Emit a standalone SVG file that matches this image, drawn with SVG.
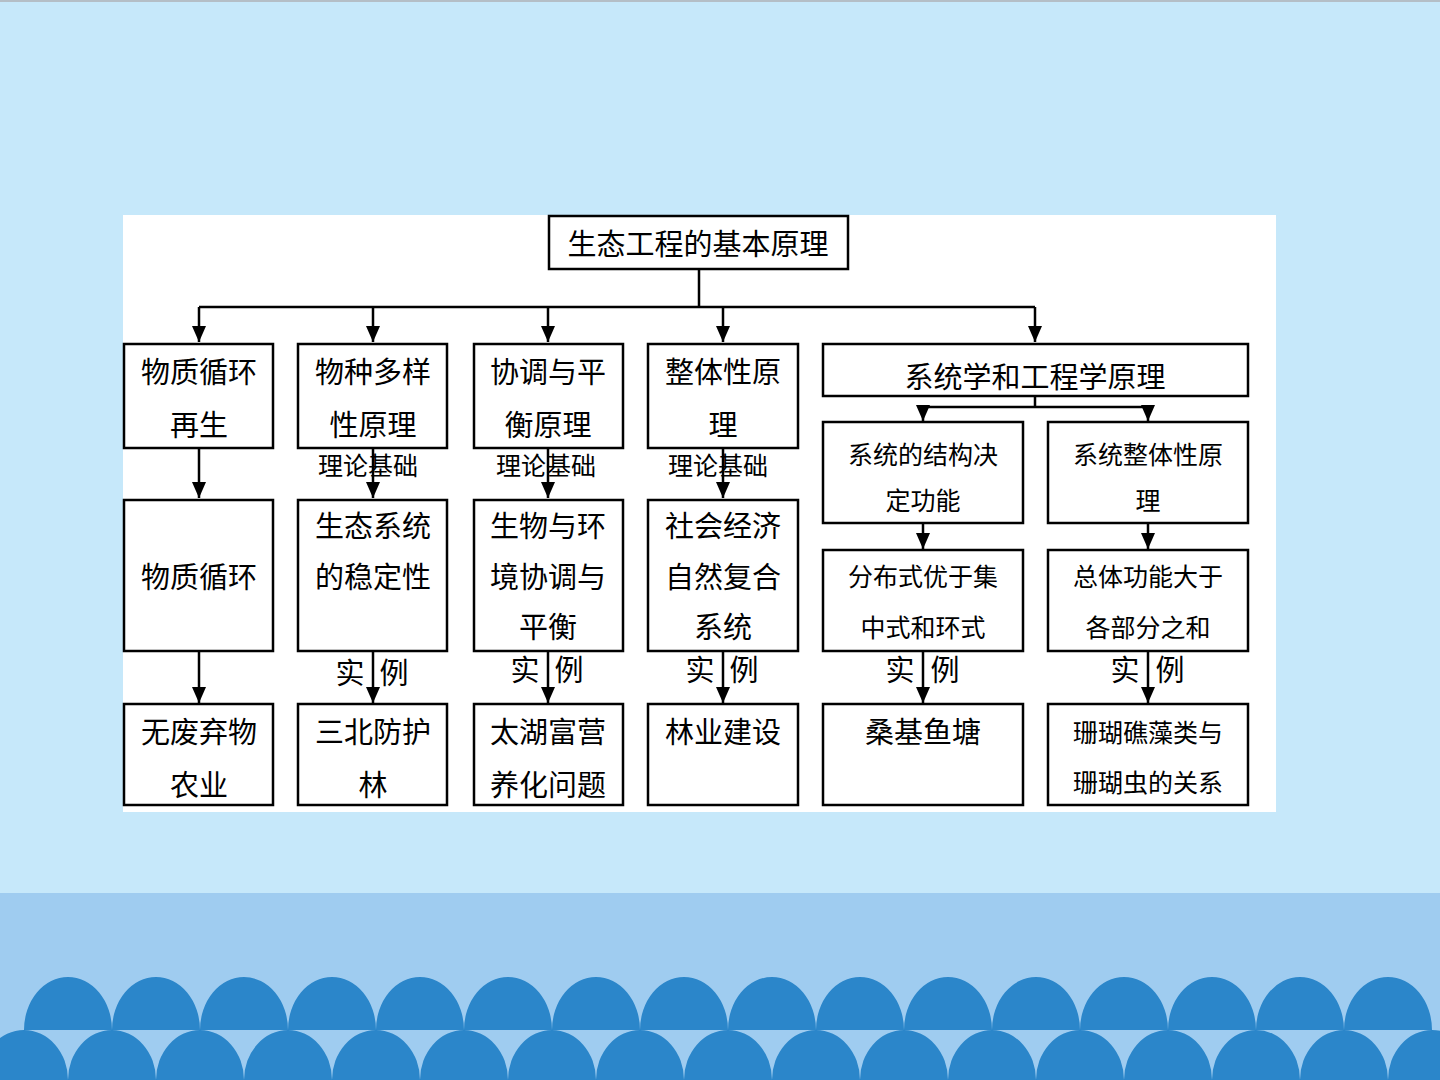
<svg xmlns="http://www.w3.org/2000/svg" width="1440" height="1080" viewBox="0 0 1440 1080">
<defs>
<style>
.box{fill:#fff;stroke:#000;stroke-width:2.5}
.t{font-family:"Noto Sans CJK SC","Noto Sans",sans-serif;font-size:29px;fill:#000;text-anchor:middle}
.s{font-family:"Noto Sans CJK SC","Noto Sans",sans-serif;font-size:25px;fill:#000;text-anchor:middle}
.l{font-family:"Noto Sans CJK SC","Noto Sans",sans-serif;font-size:25px;fill:#000;text-anchor:middle}
.c{fill:none;stroke:#000;stroke-width:2.5}
.a{fill:none;stroke:#000;stroke-width:2.5;marker-end:url(#ah)}
.arch{fill:#2B86CA}
</style>
<marker id="ah" markerUnits="userSpaceOnUse" markerWidth="16" markerHeight="18" viewBox="0 0 16 18" refX="8" refY="17" orient="0">
<path d="M1,1 L15,1 L8,17 Z" fill="#000"/>
</marker>
</defs>
<!-- background -->
<rect x="0" y="0" width="1440" height="1080" fill="#C6E8FA"/>
<rect x="0" y="0" width="1440" height="2" fill="#B4BEC6"/>
<rect x="0" y="893" width="1440" height="187" fill="#9FCCF0"/>
<g id="scallops">
<path class="arch" d="M24,1030 A44,53 0 0 1 112,1030 Z M112,1030 A44,53 0 0 1 200,1030 Z M200,1030 A44,53 0 0 1 288,1030 Z M288,1030 A44,53 0 0 1 376,1030 Z M376,1030 A44,53 0 0 1 464,1030 Z M464,1030 A44,53 0 0 1 552,1030 Z M552,1030 A44,53 0 0 1 640,1030 Z M640,1030 A44,53 0 0 1 728,1030 Z M728,1030 A44,53 0 0 1 816,1030 Z M816,1030 A44,53 0 0 1 904,1030 Z M904,1030 A44,53 0 0 1 992,1030 Z M992,1030 A44,53 0 0 1 1080,1030 Z M1080,1030 A44,53 0 0 1 1168,1030 Z M1168,1030 A44,53 0 0 1 1256,1030 Z M1256,1030 A44,53 0 0 1 1344,1030 Z M1344,1030 A44,53 0 0 1 1432,1030 Z"/>
<path class="arch" d="M-20,1080 A44,50 0 0 1 68,1080 Z M68,1080 A44,50 0 0 1 156,1080 Z M156,1080 A44,50 0 0 1 244,1080 Z M244,1080 A44,50 0 0 1 332,1080 Z M332,1080 A44,50 0 0 1 420,1080 Z M420,1080 A44,50 0 0 1 508,1080 Z M508,1080 A44,50 0 0 1 596,1080 Z M596,1080 A44,50 0 0 1 684,1080 Z M684,1080 A44,50 0 0 1 772,1080 Z M772,1080 A44,50 0 0 1 860,1080 Z M860,1080 A44,50 0 0 1 948,1080 Z M948,1080 A44,50 0 0 1 1036,1080 Z M1036,1080 A44,50 0 0 1 1124,1080 Z M1124,1080 A44,50 0 0 1 1212,1080 Z M1212,1080 A44,50 0 0 1 1300,1080 Z M1300,1080 A44,50 0 0 1 1388,1080 Z M1388,1080 A44,50 0 0 1 1476,1080 Z"/>
</g>
<rect x="123" y="215" width="1153" height="597" fill="#fff"/>

<g id="connectors">
<path class="c" d="M699,269 V307 M199,307 H1035"/>
<line class="a" x1="199" y1="307" x2="199" y2="342"/>
<line class="a" x1="373" y1="307" x2="373" y2="342"/>
<line class="a" x1="548" y1="307" x2="548" y2="342"/>
<line class="a" x1="723" y1="307" x2="723" y2="342"/>
<line class="a" x1="1035" y1="307" x2="1035" y2="342"/>
<path class="c" d="M1035,396 V407 M923,407 H1148"/>
<line class="a" x1="923" y1="407" x2="923" y2="421"/>
<line class="a" x1="1148" y1="407" x2="1148" y2="421"/>
<line class="a" x1="199" y1="449" x2="199" y2="498"/>
<line class="a" x1="373" y1="449" x2="373" y2="498"/>
<line class="a" x1="548" y1="449" x2="548" y2="498"/>
<line class="a" x1="723" y1="449" x2="723" y2="498"/>
<line class="a" x1="923" y1="524" x2="923" y2="549"/>
<line class="a" x1="1148" y1="524" x2="1148" y2="549"/>
<line class="a" x1="199" y1="652" x2="199" y2="703"/>
<line class="a" x1="373" y1="652" x2="373" y2="703"/>
<line class="a" x1="548" y1="652" x2="548" y2="703"/>
<line class="a" x1="723" y1="652" x2="723" y2="703"/>
<line class="a" x1="923" y1="652" x2="923" y2="703"/>
<line class="a" x1="1148" y1="652" x2="1148" y2="703"/>
<text class="l" x="368" y="475">理论基础</text>
<text class="l" x="546" y="475">理论基础</text>
<text class="l" x="718" y="475">理论基础</text>
<text class="t" x="350" y="684">实</text><text class="t" x="394" y="684">例</text>
<text class="t" x="525" y="681">实</text><text class="t" x="569" y="681">例</text>
<text class="t" x="700" y="681">实</text><text class="t" x="744" y="681">例</text>
<text class="t" x="900" y="681">实</text><text class="t" x="945" y="681">例</text>
<text class="t" x="1125" y="681">实</text><text class="t" x="1170" y="681">例</text>
</g>

<g id="root"><rect class="box" x="549" y="216" width="299" height="53"/><text class="t" x="698" y="255">生态工程的基本原理</text></g>

<g id="n1"><rect class="box" x="124" y="344" width="149" height="104"/><text class="t" x="199" y="383">物质循环</text><text class="t" x="199" y="436">再生</text></g>
<g id="n2"><rect class="box" x="298" y="344" width="149" height="104"/><text class="t" x="373" y="383">物种多样</text><text class="t" x="373" y="436">性原理</text></g>
<g id="n3"><rect class="box" x="474" y="344" width="149" height="104"/><text class="t" x="548" y="383">协调与平</text><text class="t" x="548" y="436">衡原理</text></g>
<g id="n4"><rect class="box" x="648" y="344" width="150" height="104"/><text class="t" x="723" y="383">整体性原</text><text class="t" x="723" y="436">理</text></g>
<g id="n5"><rect class="box" x="823" y="344" width="425" height="52"/><text class="t" x="1035" y="388">系统学和工程学原理</text></g>
<g id="n5a"><rect class="box" x="823" y="422" width="200" height="101"/><text class="s" x="923" y="464">系统的结构决</text><text class="s" x="923" y="510">定功能</text></g>
<g id="n5b"><rect class="box" x="1048" y="422" width="200" height="101"/><text class="s" x="1148" y="464">系统整体性原</text><text class="s" x="1148" y="510">理</text></g>

<g id="m1"><rect class="box" x="124" y="500" width="149" height="151"/><text class="t" x="199" y="588">物质循环</text></g>
<g id="m2"><rect class="box" x="298" y="500" width="149" height="151"/><text class="t" x="373" y="537">生态系统</text><text class="t" x="373" y="588">的稳定性</text></g>
<g id="m3"><rect class="box" x="474" y="500" width="149" height="151"/><text class="t" x="548" y="537">生物与环</text><text class="t" x="548" y="588">境协调与</text><text class="t" x="548" y="638">平衡</text></g>
<g id="m4"><rect class="box" x="648" y="500" width="150" height="151"/><text class="t" x="723" y="537">社会经济</text><text class="t" x="723" y="588">自然复合</text><text class="t" x="723" y="638">系统</text></g>
<g id="m5a"><rect class="box" x="823" y="550" width="200" height="101"/><text class="s" x="923" y="586">分布式优于集</text><text class="s" x="923" y="637">中式和环式</text></g>
<g id="m5b"><rect class="box" x="1048" y="550" width="200" height="101"/><text class="s" x="1148" y="586">总体功能大于</text><text class="s" x="1148" y="637">各部分之和</text></g>

<g id="b1"><rect class="box" x="124" y="704" width="149" height="101"/><text class="t" x="199" y="743">无废弃物</text><text class="t" x="199" y="796">农业</text></g>
<g id="b2"><rect class="box" x="298" y="704" width="149" height="101"/><text class="t" x="373" y="743">三北防护</text><text class="t" x="373" y="796">林</text></g>
<g id="b3"><rect class="box" x="474" y="704" width="149" height="101"/><text class="t" x="548" y="743">太湖富营</text><text class="t" x="548" y="796">养化问题</text></g>
<g id="b4"><rect class="box" x="648" y="704" width="150" height="101"/><text class="t" x="723" y="743">林业建设</text></g>
<g id="b5a"><rect class="box" x="823" y="704" width="200" height="101"/><text class="t" x="923" y="743">桑基鱼塘</text></g>
<g id="b5b"><rect class="box" x="1048" y="704" width="200" height="101"/><text class="s" x="1148" y="742">珊瑚礁藻类与</text><text class="s" x="1148" y="792">珊瑚虫的关系</text></g>
</svg>
